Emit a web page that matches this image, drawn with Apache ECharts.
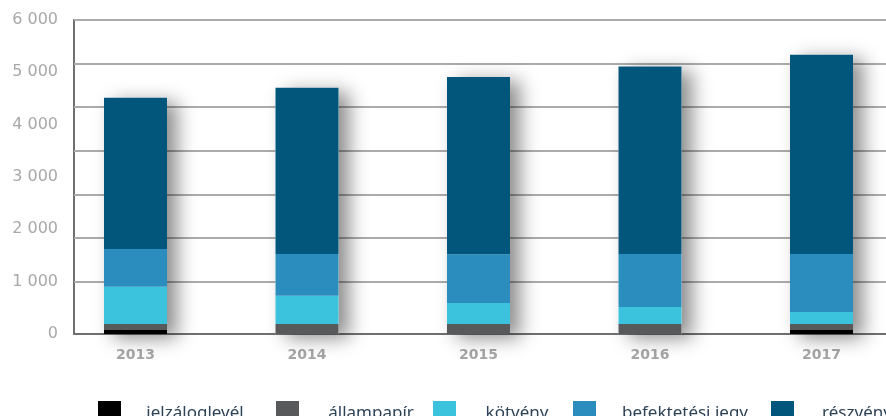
<!DOCTYPE html>
<html>
<head>
<meta charset="utf-8">
<script src="https://cdn.jsdelivr.net/npm/echarts@6/dist/echarts.min.js"></script>
<style>
html,body{margin:0;padding:0;background:#fff;}
#c{width:886px;height:416px;}
</style>
</head>
<body>
<div id="c"></div>
<script>
const categories = ['2013', '2014', '2015', '2016', '2017'];
const seriesNames = ['jelzáloglevél', 'állampapír', 'kötvény', 'befektetési jegy', 'részvény'];
const jelzaloglevel = [75, 0, 0, 0, 75];
const allampapir = [115, 190, 190, 190, 115];
const kotveny = [715, 540, 400, 325, 230];
const befektetesiJegy = [720, 800, 935, 1015, 1110];
const reszveny = [2890, 3175, 3385, 3580, 3805];
const yMin = 0, yMax = 6000, yInterval = 1000;
const gridLineValues = [1000, 1833, 2667, 3500, 4333, 5167, 6000];

const colors = ['#000000', '#58595b', '#3bc3de', '#2a8dbd', '#02567c'];
const values = [jelzaloglevel, allampapir, kotveny, befektetesiJegy, reszveny];
const totals = categories.map((_, i) => values.reduce((s, arr) => s + arr[i], 0));

const chart = echarts.init(document.getElementById('c'));

const fmt = v => String(v).replace(/\B(?=(\d{3})+(?!\d))/g, ' ');

const legendIconX = [93, 271, 428, 568, 766];
const legendTextW = [138, 134, 112, 168, 116];
const legends = seriesNames.map((n, i) => ({
  data: [n],
  left: legendIconX[i],
  top: 396,
  itemWidth: 23,
  itemHeight: 22,
  icon: 'rect',
  selectedMode: false,
  formatter: '{t|{name}}',
  textStyle: {
    rich: {
      t: {
        width: legendTextW[i],
        align: 'center',
        padding: [3, 0, 0, 0],
        fontFamily: 'Noto Sans',
        fontSize: 17,
        color: '#2f4358'
      }
    }
  }
}));

const barSeries = seriesNames.map((n, i) => ({
  name: n,
  type: 'bar',
  stack: 'total',
  xAxisIndex: 0,
  yAxisIndex: 0,
  barWidth: 63,
  barGap: '-100%',
  clip: false,
  z: 3,
  itemStyle: { color: colors[i] },
  data: values[i]
}));

const option = {
  animation: false,
  backgroundColor: '#ffffff',
  color: colors,
  legend: legends,
  grid: [
    { left: 135.5, right: 64.5, top: 20, bottom: 82 },
    { left: 74, right: 0, top: 20, bottom: 82 }
  ],
  xAxis: [
    {
      type: 'category', gridIndex: 0, data: categories, boundaryGap: false,
      axisLine: { show: false }, axisTick: { show: false },
      axisLabel: { margin: 14, fontFamily: 'DejaVu Sans', fontWeight: 'bold', fontSize: 14, color: '#a6a6a6' }
    },
    {
      type: 'value', gridIndex: 1, min: 0, max: 1,
      axisLine: { show: true, onZero: false, lineStyle: { color: '#707070', width: 2 } },
      axisTick: { show: false }, axisLabel: { show: false }, splitLine: { show: false }
    }
  ],
  yAxis: [
    { type: 'value', gridIndex: 0, min: yMin, max: yMax, show: false },
    {
      type: 'value', gridIndex: 1, min: yMin, max: yMax, interval: yInterval,
      axisLine: { show: true, lineStyle: { color: '#707070', width: 2 } },
      axisTick: { show: false },
      splitLine: { show: false },
      axisLabel: { margin: 16, fontFamily: 'DejaVu Sans', fontSize: 16, color: '#a8a8a8', formatter: fmt }
    }
  ],
  series: [
    {
      type: 'line', xAxisIndex: 1, yAxisIndex: 1, data: [], z: 1, silent: true,
      markLine: {
        silent: true, symbol: 'none', label: { show: false }, z: 1,
        lineStyle: { color: '#ababab', width: 2, type: 'solid' },
        data: gridLineValues.map(v => ({ yAxis: v }))
      }
    },
    {
      name: 'shadow', type: 'bar', xAxisIndex: 0, yAxisIndex: 0, barWidth: 63, barGap: '-100%', z: 2,
      silent: true, clip: false,
      itemStyle: { color: '#ffffff', shadowColor: 'rgba(0,0,0,0.45)', shadowBlur: 18, shadowOffsetX: 10, shadowOffsetY: 4 },
      data: totals
    }
  ].concat(barSeries)
};
chart.setOption(option);
</script>
</body>
</html>
